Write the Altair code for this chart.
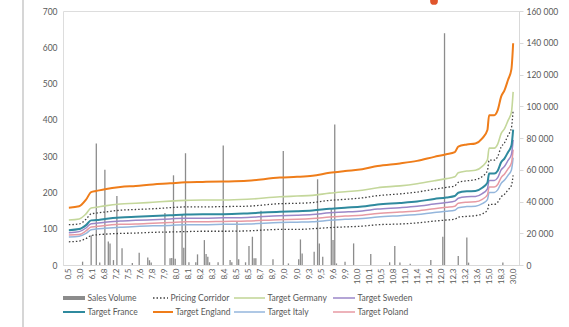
import json
import altair as alt
import pandas as pd

# Category axis: one tick label every 7 categories
tick_labels = ["0,5", "3,0", "6,1", "6,8", "7,2", "7,5", "7,6", "7,8", "7,9", "8,0",
               "8,1", "8,2", "8,3", "8,4", "8,5", "8,5", "8,7", "8,9", "9,0", "9,0",
               "9,3", "9,5", "9,6", "9,9", "10,0", "10,1", "10,5", "10,8", "11,0", "11,4",
               "11,6", "12,0", "12,3", "13,2", "13,6", "15,0", "18,3", "30,0"]
STEP = 7
N_CAT = STEP * (len(tick_labels) - 1) + 1

# Sales volume per category (right axis)
bar_idx = [8, 13, 16, 18, 21, 23, 24, 26, 28, 31, 37, 41, 46, 47, 48, 56, 59, 60, 61, 62,
           66, 67, 68, 70, 74, 75, 79, 80, 81, 82, 87, 90, 94, 95, 98, 99, 103, 105, 107, 108,
           109, 112, 119, 125, 128, 134, 135, 136, 143, 145, 146, 148, 153, 154, 155, 156, 161, 166, 176, 187,
           190, 193, 199, 211, 218, 219, 227, 232, 233, 253]
bar_vol = [2100, 18800, 76500, 1500, 60000, 14800, 13600, 3100, 43500, 10500, 1200, 7700, 4800, 3000, 1500, 32800, 4200, 4400, 56500, 4000,
           31800, 10900, 70400, 1700, 1700, 6700, 15700, 6900, 5200, 1700, 1700, 75300, 3100, 1700, 27200, 3600, 1700, 11900, 17800, 4200,
           4200, 34100, 3600, 71800, 1000, 3600, 16100, 7300, 8400, 54000, 13600, 5200, 35000, 15700, 88500, 1000, 2100, 13600, 6900, 1700,
           11900, 1500, 800, 3100, 17800, 146000, 5700, 17400, 1500, 1500]

# Price lines (left axis), sampled at these categories
line_idx = [0, 6, 10, 13, 16, 21, 30, 39, 49, 59, 68, 78, 90, 104, 123, 133, 142, 152, 161, 171,
            180, 193, 203, 213, 220, 225, 227, 232, 237, 241, 244, 245, 248, 250, 252, 254, 256, 258, 259]
england = [158, 162, 180, 201, 204, 209, 215, 218, 222, 225, 228, 229, 230, 232, 241, 243, 246, 254, 259, 264,
           273, 280, 287, 298, 305, 311, 326, 332, 335, 349, 372, 413, 413, 427, 464, 482, 510, 540, 611]
germany = [124, 127, 141, 157, 159, 163, 168, 170, 173, 176, 178, 179, 179, 181, 188, 190, 192, 198, 202, 206,
           213, 218, 224, 232, 238, 243, 254, 259, 261, 272, 290, 322, 322, 333, 362, 376, 398, 421, 477]
corridor_hi = [111, 113, 126, 141, 143, 146, 151, 153, 155, 158, 160, 160, 161, 162, 169, 170, 172, 178, 181, 185,
               191, 196, 201, 209, 214, 218, 228, 232, 235, 244, 260, 289, 289, 299, 325, 337, 357, 378, 428]
france = [96, 99, 110, 123, 124, 127, 131, 133, 135, 137, 139, 140, 140, 142, 147, 148, 150, 155, 158, 161,
          167, 171, 175, 182, 186, 190, 199, 203, 204, 213, 227, 252, 252, 260, 283, 294, 311, 329, 373]
sweden = [89, 92, 102, 114, 115, 118, 121, 123, 125, 127, 129, 129, 130, 131, 136, 137, 139, 144, 146, 149,
          154, 158, 162, 168, 172, 176, 184, 188, 189, 197, 210, 233, 233, 241, 262, 272, 288, 305, 345]
poland = [83, 84, 94, 105, 106, 109, 112, 113, 115, 117, 119, 119, 120, 121, 125, 126, 128, 132, 135, 137,
          142, 146, 149, 155, 159, 162, 170, 173, 174, 181, 193, 215, 215, 222, 241, 251, 265, 281, 318]
italy = [77, 79, 87, 97, 99, 101, 104, 106, 108, 109, 111, 111, 112, 113, 117, 118, 119, 123, 126, 128,
         132, 136, 139, 145, 148, 151, 158, 161, 162, 169, 180, 200, 200, 207, 225, 234, 247, 262, 296]
corridor_lo = [64, 66, 73, 81, 83, 85, 87, 88, 90, 91, 92, 93, 93, 94, 98, 98, 100, 103, 105, 107,
               111, 113, 116, 121, 124, 126, 132, 134, 136, 141, 151, 167, 167, 173, 188, 195, 207, 219, 247]

FONT = "Lato"
TEXT = "#595959"
BAR_COLOR = "#8c8c8c"
DOT = [1.5, 2]

# (values, colour, width, dash) drawn bottom to top
line_styles = [
    (corridor_lo, "#404040", 1.3, DOT),
    (corridor_hi, "#404040", 1.3, DOT),
    (italy, "#94b6dc", 1.5, None),
    (poland, "#e79aa3", 1.5, None),
    (sweden, "#9b87c8", 1.5, None),
    (france, "#2f8a9e", 2.0, None),
    (germany, "#c4d79b", 1.6, None),
    (england, "#ef7d1a", 2.0, None),
]

label_js = json.dumps(tick_labels).replace('"', "'")
x_scale = alt.Scale(domain=[-0.5, N_CAT - 0.5], nice=False, zero=False)
x_axis = alt.Axis(
    values=list(range(0, N_CAT, STEP)),
    labelExpr=f"{label_js}[round(datum.value / {STEP})]",
    labelAngle=270, labelFontSize=8, labelColor=TEXT, labelFont=FONT,
    labelPadding=3, ticks=False, domain=True, domainColor="#d9d9d9",
    grid=False, title=None, labelOverlap=False,
)
price_scale = alt.Scale(domain=[0, 700], nice=False)
price_axis = alt.Axis(orient="left", values=list(range(0, 701, 100)),
                      labelFontSize=8.5, labelColor=TEXT, labelFont=FONT,
                      domain=False, ticks=False, grid=False, title=None, labelPadding=6)

bars_df = pd.DataFrame({"idx": bar_idx, "volume": bar_vol})
bars = alt.Chart(bars_df).mark_bar(size=1.3, color=BAR_COLOR).encode(
    x=alt.X("idx:Q", scale=x_scale, axis=x_axis),
    y=alt.Y("volume:Q", scale=alt.Scale(domain=[0, 160000], nice=False),
            axis=alt.Axis(orient="right", values=list(range(0, 160001, 20000)),
                          labelExpr="replace(format(datum.value, ','), ',', ' ')",
                          labelFontSize=8.5, labelColor=TEXT, labelFont=FONT,
                          domainColor="#d9d9d9", tickColor="#d9d9d9", tickSize=4,
                          grid=False, title=None, labelPadding=3)),
)

line_layers = []
for vals, color, width, dash in line_styles:
    df = pd.DataFrame({"idx": line_idx, "price": vals})
    kw = {"color": color, "strokeWidth": width, "interpolate": "monotone"}
    if dash:
        kw["strokeDash"] = dash
    line_layers.append(
        alt.Chart(df).mark_line(**kw).encode(
            x=alt.X("idx:Q", scale=x_scale, axis=x_axis),
            y=alt.Y("price:Q", scale=price_scale, axis=price_axis),
        )
    )
prices = alt.layer(*line_layers)

# Legend: two rows of four entries below the category labels
legend_entries = [
    ("Sales Volume", BAR_COLOR, 4, None),
    ("Pricing Corridor", "#404040", 1.3, DOT),
    ("Target Germany", "#c4d79b", 1.6, None),
    ("Target Sweden", "#9b87c8", 1.5, None),
    ("Target France", "#2f8a9e", 2.0, None),
    ("Target England", "#ef7d1a", 2.0, None),
    ("Target Italy", "#94b6dc", 1.5, None),
    ("Target Poland", "#e79aa3", 1.5, None),
]
col_x = [0, 90, 171, 270]
row0_sym = [22, 15, 31, 22]
row1_sym = [22, 20, 31, 22]
row_y = [287, 301]
one = pd.DataFrame({"k": [0]})
legend_layers = []
for n, (name, color, width, dash) in enumerate(legend_entries):
    r, c = divmod(n, 4)
    x0 = col_x[c]
    sym = (row0_sym if r == 0 else row1_sym)[c]
    rule_kw = {"color": color, "strokeWidth": width}
    if dash:
        rule_kw["strokeDash"] = dash
    legend_layers.append(
        alt.Chart(one).mark_rule(**rule_kw).encode(
            x=alt.value(x0), x2=alt.value(x0 + sym), y=alt.value(row_y[r]))
    )
    legend_layers.append(
        alt.Chart(one).mark_text(align="left", baseline="middle", font=FONT,
                                 fontSize=8.5, color=TEXT, text=name).encode(
            x=alt.value(x0 + sym + 2.5), y=alt.value(row_y[r]))
    )

# frame line at the left edge of the panel
frame = alt.Chart(one).mark_rule(color="#c8c8c8", strokeWidth=1.5).encode(
    x=alt.value(-40), y=alt.value(-11), y2=alt.value(316)
)

# small marker peeking in at the top edge
marker = alt.Chart(one).mark_point(shape="circle", filled=True, size=60, opacity=1,
                                   color="#e0552c").encode(
    x=alt.value(371), y=alt.value(-10)
)

chart = alt.layer(bars, prices, frame, marker, *legend_layers).resolve_scale(y="independent").properties(
    width=456, height=254,
    padding={"left": 63, "top": 11, "right": 50, "bottom": 62},
    autosize=alt.AutoSizeParams(type="none"),
).configure_view(stroke=None).configure(background="white")

chart.save("out.html", embed_options={"renderer": "svg", "actions": False})
